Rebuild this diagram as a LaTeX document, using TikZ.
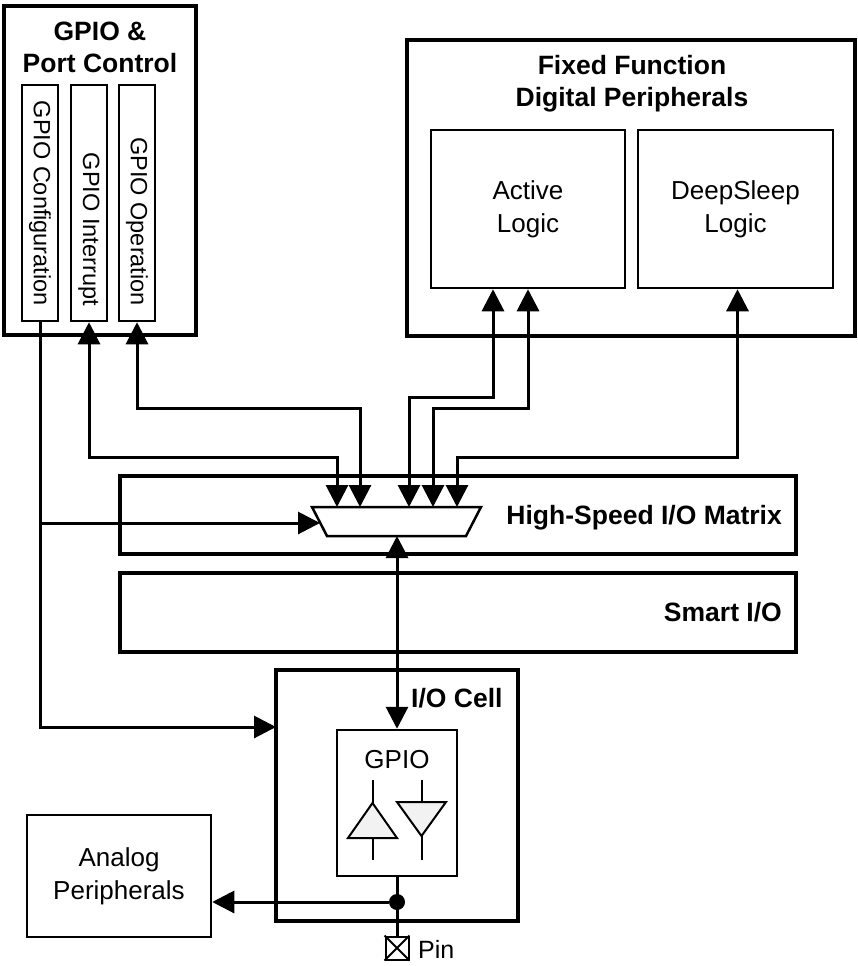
\documentclass[tikz,border=0pt]{standalone}
\usepackage{fontspec}
\setmainfont{Liberation Sans}
\usetikzlibrary{arrows.meta}

\begin{document}
\begin{tikzpicture}[x=1pt, y=-1pt,
  mainbox/.style={draw, line width=4pt, inner sep=0pt},
  subbox/.style={draw, line width=2.5pt, inner sep=0pt},
  wire/.style={line width=3pt},
  onearrow/.style={-{Triangle[length=22pt,width=22pt]}},
  twoarrow/.style={{Triangle[length=22pt,width=22pt]}-{Triangle[length=22pt,width=22pt]}},
  txt/.style={font=\fontsize{26}{33}\selectfont, align=center, inner sep=0pt},
  headtxt/.style={font=\fontsize{26.5}{32}\selectfont\bfseries, align=center, inner sep=0pt},
  vtxt/.style={font=\fontsize{23.5}{28}\selectfont, rotate=-90, inner sep=0pt, anchor=east},
  buf/.style={line width=2pt, fill=black!5}]
\useasboundingbox (0,0) rectangle (858,966);

% GPIO and port control
\node[mainbox, minimum width=192pt, minimum height=329pt] (gpioctl) at (100,170.5) {};
\node[headtxt] (gpiotitle) at (100,47) {GPIO \&\\Port Control};
\foreach \x/\n/\t in {40/cfg/GPIO Configuration, 89/intr/GPIO Interrupt, 137/oper/GPIO Operation}{
  \node[subbox, minimum width=36pt, minimum height=236pt] (\n) at (\x,203) {};
  \node[vtxt] (\n txt) at (\x,306) {\t};
}

% fixed function peripherals
\node[mainbox, minimum width=448pt, minimum height=296pt] (ffdp) at (631,188) {};
\node[headtxt] (fftitle) at (632,84) {Fixed Function\\Digital Peripherals};
\node[subbox, txt, minimum width=194pt, minimum height=158pt] (active) at (528,209) {Active\\Logic};
\node[subbox, txt, minimum width=195pt, minimum height=158pt] (deep) at (735.5,209) {DeepSleep\\Logic};

% matrix and smart io
\node[mainbox, minimum width=676pt, minimum height=78pt] (matrix) at (458,515) {};
\node[headtxt, anchor=base east] (matrixtxt) at (782,524) {High-Speed I/O Matrix};
\node[mainbox, minimum width=676pt, minimum height=79pt] (smartio) at (458,612.5) {};
\node[headtxt, anchor=base east] (smarttxt) at (782,621) {Smart I/O};

% mux
\draw[line width=2.5pt] (312,507) -- (481,507) -- (466,536) -- (327,536) -- cycle;
\foreach \x [count=\i] in {337,360,409,433,457}
  \coordinate (m\i) at (\x,507);
\coordinate (muxbot) at (397,536);
\coordinate (muxin) at (320,523);
\coordinate (cfgtap) at (40,523);

% io cell
\node[mainbox, minimum width=242pt, minimum height=251pt] (iocell) at (397,795.5) {};
\node[headtxt, anchor=base west] (celltxt) at (411,707) {I/O Cell};
\node[subbox, minimum width=120pt, minimum height=146pt] (gpio) at (397,803) {};
\node[txt, anchor=base] (gpiotxt) at (397,768) {GPIO};
\draw[buf] (348,838) -- (397,838) -- (372.5,803) -- cycle;
\draw[line width=2pt] (372.5,780) -- (372.5,803) (372.5,838) -- (372.5,860);
\draw[buf] (397,802) -- (446,802) -- (421.5,836) -- cycle;
\draw[line width=2pt] (421.5,780) -- (421.5,802) (421.5,836) -- (421.5,860);
\coordinate (cellin) at (276,727);

\node[subbox, txt, minimum width=184pt, minimum height=122pt] (analog) at (119,876) {Analog\\Peripherals};
\node[circle, fill, inner sep=0pt, minimum size=16pt] (dot) at (397,902) {};
\node[draw, line width=2pt, minimum size=23pt, inner sep=0pt] (pin) at (397,948) {};
\draw[line width=2pt] (pin.north west) -- (pin.south east) (pin.north east) -- (pin.south west);
\node[txt, font=\fontsize{25}{30}\selectfont, anchor=base west] (pintxt) at (418,958) {Pin};

% connections
\draw[wire, twoarrow] (intr.south) |- (337,457) -- (m1);
\draw[wire, twoarrow] (oper.south) |- (360,408) -- (m2);
\draw[wire, twoarrow] (m3) -- (409,397) -| ([xshift=-35pt]active.south);
\draw[wire, twoarrow] (m4) -- (433,408) -| (active.south);
\draw[wire, twoarrow] (m5) -- (457,457) -| ([xshift=2pt]deep.south);
\draw[wire, onearrow] (cfg.south) |- (cellin);
\draw[wire, onearrow] (cfgtap) -- (muxin);
\draw[wire, twoarrow] (muxbot) -- (gpio.north);
\draw[wire] (gpio.south) -- (pin.north);
\draw[wire, onearrow] (dot) -- (analog.east |- dot);
\end{tikzpicture}
\end{document}
